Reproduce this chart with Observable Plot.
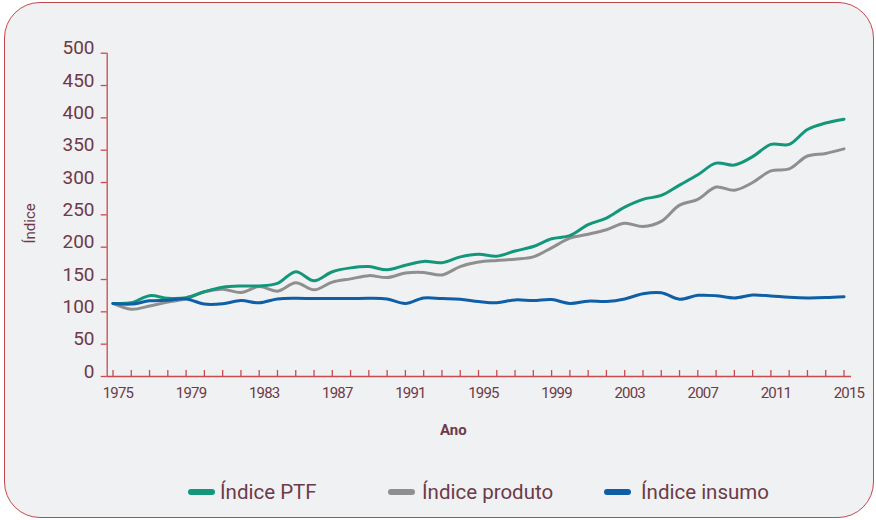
<!DOCTYPE html>
<html><head><meta charset="utf-8">
<script src="https://cdn.jsdelivr.net/npm/d3@7"></script>
<script src="https://cdn.jsdelivr.net/npm/@observablehq/plot@0.6"></script>
<style>
body{margin:0;background:#fff;width:876px;height:520px;overflow:hidden;font-family:Roboto, sans-serif}
#frame{position:absolute;left:4px;top:2px;width:870px;height:516px;box-sizing:border-box;border:1.5px solid #c2474c;border-radius:36px;background:#f0f1f3}
#chart{position:absolute;left:0;top:0}
#legend{position:absolute;left:0;top:480px;width:876px;height:24px}
.item{position:absolute;top:0;display:flex;align-items:center;height:24px;font-size:20.5px;color:#6d3a47;white-space:nowrap}
.sw{width:27px;height:6px;border-radius:3px;display:inline-block}
#chart svg [aria-label="x-axis tick label"] text{letter-spacing:-0.8px}
</style></head>
<body>
<div id="frame"></div>
<div id="chart"></div>
<div id="legend"></div>
<script>
const years = [1975,1976,1977,1978,1979,1980,1981,1982,1983,1984,1985,1986,1987,1988,1989,1990,1991,1992,1993,1994,1995,1996,1997,1998,1999,2000,2001,2002,2003,2004,2005,2006,2007,2008,2009,2010,2011,2012,2013,2014,2015];
const indicePTF = [113,114,125,121,122,131,138,140,140,144,162,148,162,168,170,165,172,178,176,185,189,186,194,201,213,218,235,245,262,274,280,296,312,330,327,340,359,359,382,392,398];
const indiceProduto = [113,104,109,115,120,131,135,130,139,132,145,134,146,151,156,153,160,161,157,170,177,179.5,181.5,185,199,214,220,227,237,232,240,265,274,293,288,300,318,321,341,345,352];
const indiceInsumo = [113,112,117,118,120,112,112.5,117.5,114,120,121,120.5,120.5,120.5,121,120,113,121.5,120.5,119.5,116,114,118.5,117.5,119,113,116.5,116,120,128,129.5,119.5,125.5,125,121.5,126,124.5,122.5,121.5,122,123.5];
const seriesNames = ["Índice PTF", "Índice produto", "Índice insumo"];
const seriesColors = ["#13967a", "#8f8f8f", "#0e5fa6"];
const yTicks = [0,50,100,150,200,250,300,350,400,450,500];
const xTickLabels = [1975,1979,1983,1987,1991,1995,1999,2003,2007,2011,2015];

const axisColor = "#c94a50";
const textColor = "#6d3a47";

const allSeries = [indicePTF, indiceProduto, indiceInsumo];
const rows = [];
allSeries.forEach((vals, i) => years.forEach((ano, j) => rows.push({ano, valor: vals[j], serie: seriesNames[i]})));

const drawOrder = [1, 0, 2];
const lines = drawOrder.map(i => Plot.line(rows.filter(d => d.serie === seriesNames[i]), {
  x: "ano", y: "valor", stroke: seriesColors[i], strokeWidth: 3, curve: "catmull-rom"
}));

const chart = Plot.plot({
  width: 876, height: 445,
  marginLeft: 106.7, marginRight: 25, marginTop: 52.7, marginBottom: 69,
  style: {background: "transparent", fontFamily: "Roboto, sans-serif", overflow: "visible"},
  x: {domain: [1975, 2015], range: [112.5, 843.5]},
  y: {domain: [0, 500]},
  marks: [
    Plot.axisY(yTicks, {tickSize: 6, fill: "none", stroke: axisColor, strokeWidth: 1.3, label: null}),
    Plot.axisY(yTicks, {tickSize: 0, tickPadding: 12.7, fill: textColor, fontSize: 19, dy: -5, label: null, tickFormat: d => String(d)}),
    Plot.axisX(years, {tickSize: 6, dy: -6, fill: "none", stroke: axisColor, strokeWidth: 1.3, label: null}),
    Plot.axisX(xTickLabels, {tickSize: 0, tickPadding: 11, fill: textColor, fontSize: 15, dx: 5, label: null, tickFormat: d => String(d)}),
    Plot.ruleY([0], {stroke: axisColor, strokeWidth: 1.3}),
    Plot.ruleX([1975], {y1: 0, y2: 500, dx: -5.8, stroke: axisColor, strokeWidth: 1.3}),
    ...lines,
    Plot.text(["Índice"], {frameAnchor: "left", textAnchor: "middle", lineAnchor: "middle", dx: -76.7, dy: 8.6, rotate: -90, fontSize: 15, fill: textColor}),
    Plot.text(["Ano"], {frameAnchor: "bottom", textAnchor: "middle", lineAnchor: "middle", dx: -26, dy: 54, fontWeight: "bold", fontSize: 15, fill: textColor})
  ]
});
document.getElementById("chart").appendChild(chart);

const legendLeft = [188, 388, 604];
const legendGap = [5, 7, 10];
const legend = document.getElementById("legend");
seriesNames.forEach((name, i) => {
  const item = document.createElement("div");
  item.className = "item";
  item.style.left = legendLeft[i] + "px";
  const sw = document.createElement("span");
  sw.className = "sw";
  sw.style.background = seriesColors[i];
  sw.style.marginRight = legendGap[i] + "px";
  const label = document.createElement("span");
  label.textContent = name;
  item.appendChild(sw);
  item.appendChild(label);
  legend.appendChild(item);
});
</script>
</body></html>
